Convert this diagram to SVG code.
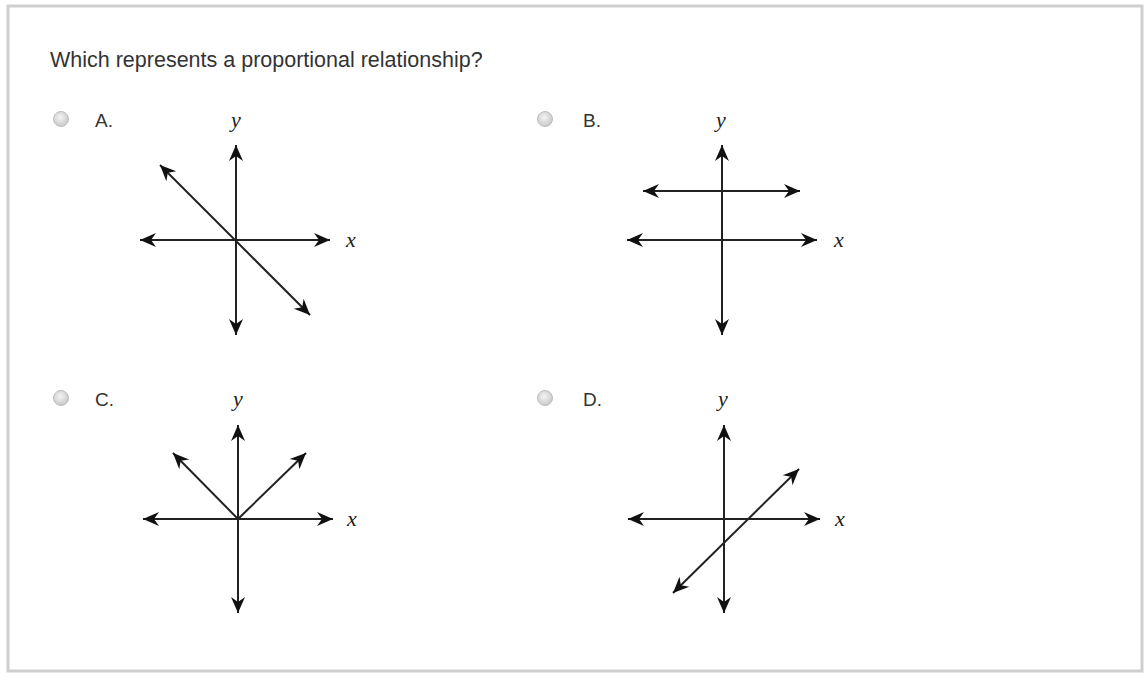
<svg xmlns="http://www.w3.org/2000/svg" width="1145" height="677" viewBox="0 0 1145 677">
<defs>
<marker id="ah" viewBox="-17 -8 18 16" refX="0" refY="0" markerWidth="18" markerHeight="16" markerUnits="userSpaceOnUse" orient="auto-start-reverse">
<path d="M0,0 L-16,-7 L-11,0 L-16,7 Z" fill="#111"/>
</marker>
<radialGradient id="rg" cx="0.45" cy="0.4" r="0.6">
<stop offset="0" stop-color="#f4f4f4"/>
<stop offset="1" stop-color="#c8c8c8"/>
</radialGradient>
</defs>
<style>
.q{font-family:"Liberation Sans",Arial,sans-serif;font-size:21.5px;fill:#333}
.lbl{font-family:"Liberation Sans",Arial,sans-serif;font-size:19px;fill:#333}
.ax{font-family:"Liberation Serif","Times New Roman",serif;font-style:italic;font-size:22px;fill:#222}
.ln{stroke:#222;stroke-width:2;fill:none;marker-start:url(#ah);marker-end:url(#ah)}
.rb{fill:url(#rg);stroke:#bdbdbd;stroke-width:1}
</style>
<rect x="0" y="0" width="1145" height="677" fill="#fff"/>
<rect x="8" y="6" width="1134" height="665" fill="#fff" stroke="#cfcfcf" stroke-width="3"/>
<text class="q" x="50" y="67">Which represents a proportional relationship?</text>

<g id="optA">
<circle class="rb" cx="61" cy="119" r="7.5"/>
<text class="lbl" x="95" y="127">A.</text>
<text class="ax" x="231" y="127">y</text>
<text class="ax" x="346" y="247">x</text>
<g class="connectors">
<line class="ln" x1="236" y1="145" x2="236" y2="335"/>
<line class="ln" x1="140" y1="240" x2="330" y2="240"/>
<line class="ln" x1="160" y1="165" x2="310" y2="315"/>
</g>
</g>

<g id="optB">
<circle class="rb" cx="545" cy="119" r="7.5"/>
<text class="lbl" x="583" y="127">B.</text>
<text class="ax" x="716" y="127">y</text>
<text class="ax" x="834" y="247">x</text>
<g class="connectors">
<line class="ln" x1="722" y1="145" x2="722" y2="335"/>
<line class="ln" x1="627" y1="240" x2="817" y2="240"/>
<line class="ln" x1="643" y1="191" x2="800" y2="191"/>
</g>
</g>

<g id="optC">
<circle class="rb" cx="61" cy="398" r="7.5"/>
<text class="lbl" x="95" y="406">C.</text>
<text class="ax" x="233" y="406">y</text>
<text class="ax" x="347" y="526">x</text>
<g class="connectors">
<line class="ln" x1="238" y1="425" x2="238" y2="613"/>
<line class="ln" x1="143" y1="519" x2="333" y2="519"/>
<line class="ln" x1="238" y1="519" x2="173" y2="453" style="marker-start:none"/>
<line class="ln" x1="238" y1="519" x2="306" y2="453" style="marker-start:none"/>
</g>
</g>

<g id="optD">
<circle class="rb" cx="545" cy="398" r="7.5"/>
<text class="lbl" x="583" y="406">D.</text>
<text class="ax" x="718" y="406">y</text>
<text class="ax" x="835" y="526">x</text>
<g class="connectors">
<line class="ln" x1="724" y1="425" x2="724" y2="613"/>
<line class="ln" x1="628" y1="519" x2="820" y2="519"/>
<line class="ln" x1="673" y1="593" x2="799" y2="469"/>
</g>
</g>
</svg>
